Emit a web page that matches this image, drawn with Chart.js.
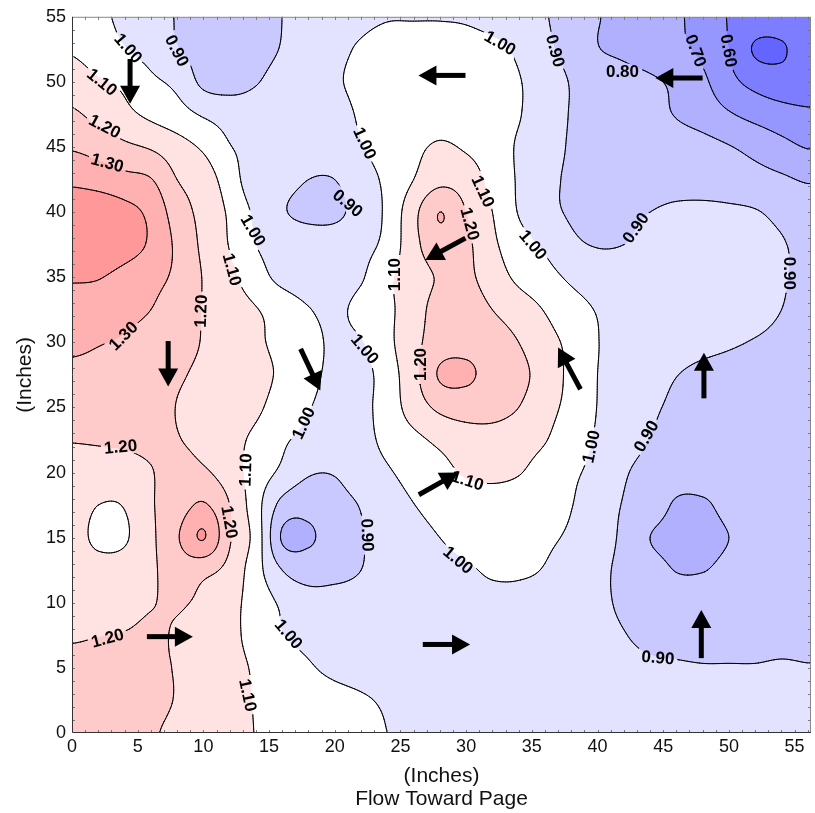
<!DOCTYPE html>
<html>
<head>
<meta charset="utf-8">
<script src="https://cdn.jsdelivr.net/npm/chart.js@4/dist/chart.umd.min.js"></script>
<style>
  html, body { margin: 0; padding: 0; background: #fff; }
  #wrap { width: 815px; height: 813px; }
</style>
</head>
<body>
<div id="wrap"><canvas id="flowMap"></canvas></div>
<script>
// measurement grid (inches) and measured ratio at each node, rows bottom to top
const gridX = [0,2,4,6,8,10,12,14,16,18,20,22,24,26,28,30,32,34,36,38,40,42,44,46,48,50,52,54,56];
const gridY = [0,2.5,5,7.5,10,12.5,15,17.5,20,22.5,25,27.5,30,32.5,35,37.5,40,42.5,45,47.5,50,52.5,55];
const zValues = [
  [1.24,1.245,1.24,1.21,1.18,1.15,1.125,1.098,1.075,1.055,1.035,1.018,1.0,0.985,0.975,0.97,0.965,0.96,0.96,0.955,0.955,0.95,0.945,0.94,0.94,0.94,0.94,0.94,0.94],
  [1.24,1.245,1.245,1.225,1.195,1.165,1.13,1.095,1.07,1.05,1.03,1.01,0.99,0.975,0.965,0.96,0.96,0.96,0.955,0.95,0.95,0.945,0.94,0.935,0.93,0.93,0.93,0.93,0.93],
  [1.23,1.235,1.24,1.215,1.195,1.16,1.125,1.09,1.05,1.01,0.98,0.965,0.955,0.95,0.95,0.95,0.95,0.95,0.945,0.94,0.935,0.925,0.915,0.91,0.905,0.905,0.905,0.91,0.905],
  [1.19,1.198,1.205,1.215,1.19,1.155,1.12,1.07,1.003,0.975,0.96,0.95,0.945,0.945,0.945,0.945,0.945,0.945,0.94,0.93,0.92,0.903,0.88,0.87,0.865,0.865,0.865,0.87,0.87],
  [1.16,1.16,1.165,1.195,1.21,1.18,1.13,1.06,0.985,0.95,0.94,0.935,0.94,0.95,0.96,0.97,0.975,0.975,0.965,0.945,0.915,0.89,0.87,0.855,0.85,0.85,0.85,0.85,0.85],
  [1.15,1.13,1.14,1.185,1.24,1.225,1.17,1.04,0.9,0.85,0.87,0.9,0.93,0.955,0.975,0.99,1.01,1.01,0.995,0.95,0.915,0.885,0.84,0.797,0.797,0.82,0.825,0.83,0.83],
  [1.13,1.085,1.09,1.18,1.29,1.405,1.21,1.06,0.79,0.79,0.84,0.895,0.935,0.97,1.0,1.025,1.035,1.03,1.015,0.985,0.93,0.885,0.8,0.775,0.775,0.8,0.825,0.83,0.83],
  [1.14,1.1,1.105,1.19,1.25,1.31,1.2,1.04,0.87,0.83,0.87,0.905,0.96,0.998,1.03,1.05,1.06,1.05,1.03,1.003,0.94,0.895,0.85,0.79,0.79,0.82,0.83,0.835,0.835],
  [1.16,1.155,1.16,1.195,1.235,1.215,1.15,1.055,0.98,0.91,0.905,0.945,0.99,1.03,1.07,1.11,1.12,1.105,1.06,1.015,0.975,0.91,0.87,0.84,0.835,0.835,0.835,0.83,0.83],
  [1.205,1.21,1.215,1.22,1.205,1.17,1.13,1.08,1.015,0.975,0.955,0.97,1.025,1.075,1.12,1.15,1.16,1.14,1.105,1.04,0.99,0.94,0.898,0.865,0.85,0.845,0.84,0.835,0.83],
  [1.27,1.265,1.25,1.23,1.198,1.175,1.15,1.115,1.06,1.005,0.97,0.975,1.045,1.145,1.22,1.245,1.235,1.2,1.135,1.07,0.998,0.955,0.915,0.885,0.87,0.865,0.855,0.85,0.845],
  [1.28,1.275,1.26,1.24,1.21,1.185,1.16,1.125,1.085,1.025,0.98,0.97,1.05,1.17,1.31,1.315,1.265,1.225,1.16,1.075,1.0,0.96,0.93,0.902,0.88,0.87,0.86,0.855,0.85],
  [1.32,1.305,1.29,1.26,1.23,1.195,1.155,1.115,1.075,1.03,0.985,0.995,1.075,1.17,1.25,1.27,1.245,1.2,1.135,1.075,1.003,0.97,0.955,0.94,0.925,0.91,0.895,0.88,0.87],
  [1.36,1.35,1.33,1.3,1.25,1.195,1.15,1.105,1.06,1.005,0.98,1.03,1.08,1.155,1.24,1.25,1.2,1.15,1.095,1.035,0.995,0.97,0.96,0.955,0.95,0.94,0.925,0.9,0.88],
  [1.41,1.405,1.37,1.33,1.28,1.195,1.125,1.04,0.975,0.95,0.95,0.99,1.08,1.15,1.21,1.22,1.15,1.08,1.035,0.985,0.96,0.945,0.94,0.94,0.935,0.93,0.92,0.905,0.885],
  [1.47,1.47,1.44,1.385,1.28,1.18,1.095,1.0,0.97,0.955,0.95,0.97,1.03,1.17,1.26,1.22,1.12,1.04,0.985,0.92,0.895,0.9,0.92,0.93,0.94,0.935,0.92,0.905,0.88],
  [1.46,1.46,1.43,1.375,1.25,1.17,1.085,0.98,0.91,0.875,0.88,0.94,1.02,1.17,1.3,1.2,1.1,0.995,0.93,0.89,0.875,0.885,0.9,0.915,0.92,0.915,0.905,0.88,0.86],
  [1.38,1.36,1.33,1.305,1.2,1.15,1.05,0.94,0.93,0.9,0.9,0.96,1.02,1.1,1.17,1.15,1.07,0.99,0.93,0.885,0.87,0.865,0.865,0.865,0.86,0.85,0.835,0.815,0.79],
  [1.29,1.26,1.22,1.19,1.14,1.085,1.005,0.97,0.95,0.94,0.96,0.995,1.04,1.08,1.11,1.09,1.05,0.99,0.95,0.89,0.88,0.87,0.86,0.845,0.83,0.805,0.77,0.73,0.695],
  [1.215,1.17,1.125,1.08,1.04,0.99,0.96,0.945,0.94,0.95,0.97,1.01,1.04,1.06,1.07,1.06,1.04,1.005,0.95,0.895,0.87,0.85,0.83,0.795,0.76,0.71,0.67,0.64,0.62],
  [1.15,1.11,1.08,1.02,0.975,0.88,0.865,0.895,0.93,0.96,0.99,1.02,1.05,1.06,1.06,1.05,1.03,1.005,0.95,0.895,0.87,0.84,0.815,0.78,0.72,0.63,0.57,0.54,0.54],
  [1.09,1.05,1.005,0.965,0.905,0.875,0.86,0.875,0.905,0.95,0.98,1.01,1.04,1.05,1.05,1.04,1.02,0.985,0.92,0.87,0.805,0.78,0.75,0.72,0.68,0.6,0.49,0.49,0.55],
  [1.06,1.02,0.98,0.94,0.895,0.87,0.86,0.875,0.9,0.93,0.96,0.98,0.995,0.995,0.995,0.99,0.97,0.95,0.905,0.87,0.805,0.78,0.75,0.715,0.66,0.595,0.56,0.55,0.55]
];

const levels = [0.5, 0.6, 0.7, 0.8, 0.9, 1.0, 1.1, 1.2, 1.3, 1.4];
const bandColors = ['#6464ff','#7d7dff','#9696ff','#b0b0ff','#c9c9ff','#e3e3ff',
                    '#ffffff','#ffe3e3','#ffcaca','#ffb0b0','#ff9999'];

const xTickValues = [0,5,10,15,20,25,30,35,40,45,50,55];
const yTickValues = [0,5,10,15,20,25,30,35,40,45,50,55];

// flow arrows: tail position and vector, inches
const arrowX  = [4.42, 29.95, 48.0, 29.95, 7.32, 17.4, 38.7, 48.1, 26.4, 5.7, 26.7, 47.9];
const arrowY  = [51.76, 50.5, 50.3, 38.0, 30.1, 29.5, 26.4, 25.7, 18.3, 7.4, 6.8, 5.75];
const arrowDX = [0, -3.58, -3.6, -3.05, 0, 1.5, -1.7, 0, 3.0, 3.5, 3.6, 0];
const arrowDY = [-3.43, 0, 0, -1.67, -3.5, -3.2, 3.2, 3.5, 1.7, 0, 0, 3.7];

// contour labels
const labelLevel = [1.0,0.9,1.1,1.2,1.3,1.0,1.1,1.3,1.2,1.2,1.1,1.2,1.2,1.1,1.0,1.0,1.0,1.0,0.9,
                    1.1,1.2,1.1,1.0,0.9,1.2,1.1,0.9,1.0,1.0,0.8,0.7,0.6,0.9,0.9,1.0,0.9,0.9];
const labelX = [4.3,8.0,2.3,2.5,2.7,13.8,12.2,3.9,9.8,3.7,13.2,12.0,2.7,13.4,17.6,22.3,22.3,32.6,21.0,
                31.3,30.3,24.5,35.1,36.8,26.5,30.1,22.5,29.4,16.5,41.9,47.5,50.0,42.9,54.6,39.5,43.7,44.6];
const labelY = [52.6,52.4,50.0,46.6,43.8,38.6,35.6,30.5,32.4,22.0,20.2,16.2,7.3,2.9,23.8,29.5,45.3,53.0,40.7,
                41.6,39.1,35.2,37.5,52.4,28.3,19.4,15.2,13.3,7.6,50.8,52.4,52.4,38.8,35.3,22.0,22.8,5.8];
const labelAngle = [49,63,39,28,15,60,75,-45,-88,-5,-88,80,-15,78,-65,50,65,30,40,
                    65,75,-90,50,75,-90,18,88,40,50,0,70,80,-55,90,-78,-60,5];

const X_MAX = 56.25, Y_MAX = 55;
const FONT = "'Liberation Sans', Arial, sans-serif";

function catmull(p0, p1, p2, p3, t) {
  return p1 + 0.5 * t * (p2 - p0 + t * (2 * p0 - 5 * p1 + 4 * p2 - p3 + t * (3 * (p1 - p2) + p3 - p0)));
}

const nGX = gridX.length, nGY = gridY.length;
const stepGX = gridX[1] - gridX[0], stepGY = gridY[1] - gridY[0];
const rowBuf = [0, 0, 0, 0];

function field(vx, vy) {
  const fx = Math.max(0, Math.min(nGX - 1, (vx - gridX[0]) / stepGX));
  const fy = Math.max(0, Math.min(nGY - 1, (vy - gridY[0]) / stepGY));
  const i = Math.min(nGX - 2, Math.floor(fx));
  const j = Math.min(nGY - 2, Math.floor(fy));
  const tx = fx - i, ty = fy - j;
  const i0 = Math.max(0, i - 1), i3 = Math.min(nGX - 1, i + 2);
  for (let m = 0; m < 4; m++) {
    const r = zValues[Math.max(0, Math.min(nGY - 1, j - 1 + m))];
    rowBuf[m] = catmull(r[i0], r[i], r[i + 1], r[i3], tx);
  }
  return catmull(rowBuf[0], rowBuf[1], rowBuf[2], rowBuf[3], ty);
}

function hexRgb(h) {
  return [parseInt(h.slice(1, 3), 16), parseInt(h.slice(3, 5), 16), parseInt(h.slice(5, 7), 16)];
}
const bandRgb = bandColors.map(hexRgb);

function bandOf(z) {
  let k = 0;
  while (k < levels.length && z >= levels[k]) k++;
  return k;
}

// marching squares on a fine resampling of the field
function contourSegments(level, sx, sy, vals) {
  const segs = [];
  const nx = sx.length, ny = sy.length;
  const lerp = (a, b, va, vb) => a + (b - a) * (level - va) / (vb - va);
  for (let j = 0; j < ny - 1; j++) {
    for (let i = 0; i < nx - 1; i++) {
      const v0 = vals[j][i], v1 = vals[j][i + 1], v2 = vals[j + 1][i + 1], v3 = vals[j + 1][i];
      const b0 = v0 >= level, b1 = v1 >= level, b2 = v2 >= level, b3 = v3 >= level;
      if (b0 === b1 && b1 === b2 && b2 === b3) continue;
      const x0 = sx[i], x1 = sx[i + 1], y0 = sy[j], y1 = sy[j + 1];
      const e = [null, null, null, null];
      if (b0 !== b1) e[0] = [lerp(x0, x1, v0, v1), y0];
      if (b1 !== b2) e[1] = [x1, lerp(y0, y1, v1, v2)];
      if (b2 !== b3) e[2] = [lerp(x1, x0, v2, v3), y1];
      if (b3 !== b0) e[3] = [x0, lerp(y1, y0, v3, v0)];
      const hits = e.filter(p => p);
      if (hits.length === 2) {
        segs.push(hits[0], hits[1]);
      } else if (hits.length === 4) {
        const centre = (v0 + v1 + v2 + v3) / 4 >= level;
        if (centre === b0) { segs.push(e[0], e[1], e[2], e[3]); }
        else { segs.push(e[3], e[0], e[1], e[2]); }
      }
    }
  }
  return segs;
}

const contourPlugin = {
  id: 'contourField',
  beforeDatasetsDraw(chart) {
    const {ctx, chartArea: a, scales: {x, y}} = chart;
    const left = Math.round(a.left), top = Math.round(a.top);
    const w = Math.round(a.right) - left, h = Math.round(a.bottom) - top;
    const img = ctx.createImageData(w, h);
    const xs = new Float64Array(w);
    for (let i = 0; i < w; i++) xs[i] = x.getValueForPixel(left + i + 0.5);
    let p = 0;
    for (let j = 0; j < h; j++) {
      const vy = y.getValueForPixel(top + j + 0.5);
      for (let i = 0; i < w; i++) {
        const c = bandRgb[bandOf(field(xs[i], vy))];
        img.data[p++] = c[0]; img.data[p++] = c[1]; img.data[p++] = c[2]; img.data[p++] = 255;
      }
    }
    ctx.putImageData(img, left, top);
  },
  afterDatasetsDraw(chart) {
    const {ctx, chartArea: a, scales: {x, y}} = chart;

    // resampled field for contour lines
    const step = 0.125;
    const sx = [], sy = [];
    for (let v = 0; v < X_MAX; v += step) sx.push(v);
    sx.push(X_MAX);
    for (let v = 0; v < Y_MAX; v += step) sy.push(v);
    sy.push(Y_MAX);
    const vals = sy.map(vy => sx.map(vx => field(vx, vy)));

    // label boxes are cut out of the lines
    ctx.font = 'bold 17px ' + FONT;
    const boxes = labelLevel.map((lv, k) => {
      const text = lv.toFixed(2);
      const cx = x.getPixelForValue(labelX[k]), cy = y.getPixelForValue(labelY[k]);
      const ang = labelAngle[k] * Math.PI / 180;
      const hw = ctx.measureText(text).width / 2 + 3, hh = 8;
      const c = Math.cos(ang), s = Math.sin(ang);
      const pts = [[-hw, -hh], [hw, -hh], [hw, hh], [-hw, hh]].map(([u, v]) => [cx + u * c - v * s, cy + u * s + v * c]);
      return {text, cx, cy, ang, pts};
    });

    ctx.save();
    ctx.beginPath();
    ctx.rect(a.left, a.top, a.right - a.left, a.bottom - a.top);
    boxes.forEach(b => {
      ctx.moveTo(b.pts[0][0], b.pts[0][1]);
      for (let k = 1; k < 4; k++) ctx.lineTo(b.pts[k][0], b.pts[k][1]);
      ctx.closePath();
    });
    ctx.clip('evenodd');
    ctx.strokeStyle = '#000';
    ctx.lineWidth = 1;
    ctx.lineCap = 'round';
    levels.forEach(level => {
      const segs = contourSegments(level, sx, sy, vals);
      ctx.beginPath();
      for (let k = 0; k < segs.length; k += 2) {
        ctx.moveTo(x.getPixelForValue(segs[k][0]), y.getPixelForValue(segs[k][1]));
        ctx.lineTo(x.getPixelForValue(segs[k + 1][0]), y.getPixelForValue(segs[k + 1][1]));
      }
      ctx.stroke();
    });
    ctx.restore();

    // contour labels
    ctx.save();
    ctx.fillStyle = '#000';
    ctx.font = 'bold 17px ' + FONT;
    ctx.textAlign = 'center';
    ctx.textBaseline = 'middle';
    boxes.forEach(b => {
      ctx.save();
      ctx.translate(b.cx, b.cy);
      ctx.rotate(b.ang);
      ctx.fillText(b.text, 0, 1);
      ctx.restore();
    });
    ctx.restore();

    // flow arrows
    ctx.save();
    ctx.fillStyle = '#000';
    chart.data.datasets[0].data.forEach((pt, k) => {
      const x0 = x.getPixelForValue(pt.x), y0 = y.getPixelForValue(pt.y);
      const x1 = x.getPixelForValue(pt.x + arrowDX[k]), y1 = y.getPixelForValue(pt.y + arrowDY[k]);
      const len = Math.hypot(x1 - x0, y1 - y0);
      ctx.save();
      ctx.translate(x0, y0);
      ctx.rotate(Math.atan2(y1 - y0, x1 - x0));
      ctx.fillRect(0, -2.5, len - 16, 5);
      ctx.beginPath();
      ctx.moveTo(len, 0);
      ctx.lineTo(len - 18, -10);
      ctx.lineTo(len - 18, 10);
      ctx.closePath();
      ctx.fill();
      ctx.restore();
    });
    ctx.restore();

    // frame and small inward ticks every inch
    ctx.save();
    ctx.lineWidth = 1;
    ctx.strokeStyle = '#777';
    ctx.beginPath();
    for (let v = 1; v < X_MAX; v++) {
      const px = Math.round(x.getPixelForValue(v)) + 0.5;
      ctx.moveTo(px, a.bottom); ctx.lineTo(px, a.bottom - 3);
      ctx.moveTo(px, a.top); ctx.lineTo(px, a.top + 3);
    }
    for (let v = 1; v < Y_MAX; v++) {
      const py = Math.round(y.getPixelForValue(v)) + 0.5;
      ctx.moveTo(a.left, py); ctx.lineTo(a.left + 3, py);
      ctx.moveTo(a.right, py); ctx.lineTo(a.right - 3, py);
    }
    ctx.stroke();
    ctx.strokeStyle = '#888';
    ctx.beginPath();
    ctx.moveTo(a.left, a.top + 0.5); ctx.lineTo(a.right - 0.5, a.top + 0.5); ctx.lineTo(a.right - 0.5, a.bottom);
    ctx.stroke();
    ctx.strokeStyle = '#333';
    ctx.beginPath();
    ctx.moveTo(a.left + 0.5, a.top); ctx.lineTo(a.left + 0.5, a.bottom - 0.5); ctx.lineTo(a.right, a.bottom - 0.5);
    ctx.stroke();
    ctx.restore();
  }
};

Chart.defaults.font.family = FONT;
Chart.defaults.font.size = 18;
Chart.defaults.color = '#111';

new Chart(document.getElementById('flowMap'), {
  type: 'scatter',
  data: {
    datasets: [{
      label: 'Flow',
      data: arrowX.map((v, k) => ({x: v, y: arrowY[k]})),
      pointRadius: 0,
      pointHoverRadius: 0
    }]
  },
  options: {
    responsive: true,
    maintainAspectRatio: false,
    animation: false,
    events: [],
    layout: { padding: { top: 9, right: 4, left: 0, bottom: 0 } },
    plugins: { legend: { display: false }, tooltip: { enabled: false } },
    scales: {
      x: {
        type: 'linear', min: 0, max: X_MAX,
        grid: { display: false, drawTicks: false },
        border: { display: false },
        afterBuildTicks: s => { s.ticks = xTickValues.map(v => ({value: v})); },
        afterFit: s => { s.height = 80; },
        ticks: { padding: 3, maxRotation: 0, color: '#111' },
        title: {
          display: true,
          text: ['(Inches)', 'Flow Toward Page'],
          font: { size: 21, lineHeight: '23px' },
          padding: { top: 0, bottom: 2 },
          color: '#111'
        }
      },
      y: {
        type: 'linear', min: 0, max: Y_MAX,
        grid: { display: false, drawTicks: false },
        border: { display: false },
        afterBuildTicks: s => { s.ticks = yTickValues.map(v => ({value: v})); },
        afterFit: s => { s.width = 72; },
        ticks: { padding: 6, color: '#111' },
        title: {
          display: true,
          text: '(Inches)',
          font: { size: 21, lineHeight: '24px' },
          padding: { top: 13, bottom: 0 },
          color: '#111'
        }
      }
    }
  },
  plugins: [contourPlugin]
});
</script>
</body>
</html>
